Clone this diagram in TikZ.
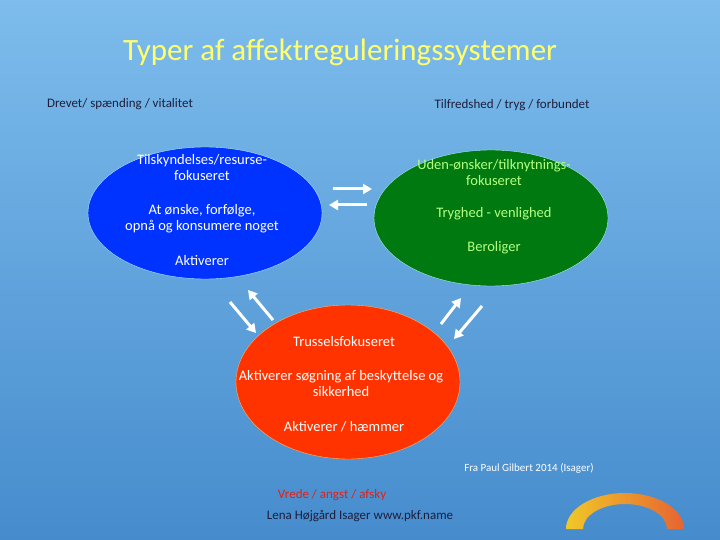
\documentclass[tikz,border=0pt]{standalone}
\usepackage{fontspec}
\setmainfont{Carlito}
\usetikzlibrary{shapes.geometric,arrows.meta}
\definecolor{bgtop}{RGB}{125,188,236}
\definecolor{bgbot}{RGB}{70,140,205}
\definecolor{ttl}{RGB}{255,255,110}
\definecolor{lbl}{RGB}{30,30,60}
\definecolor{cblue}{RGB}{0,51,255}
\definecolor{cgreen}{RGB}{0,122,16}
\definecolor{cred}{RGB}{255,51,0}
\definecolor{gtxt}{RGB}{180,255,130}
\definecolor{vred}{RGB}{230,30,20}
\definecolor{arcA}{RGB}{240,200,40}
\definecolor{arcB}{RGB}{230,100,50}
\begin{document}
\begin{tikzpicture}[x=1pt,y=-1pt,
  txt/.style={font=\fontsize{14.5}{16}\selectfont,align=center},
  small/.style={font=\fontsize{13}{15}\selectfont},
  arr/.style={draw=white,line width=3pt,-{Triangle[length=9pt,width=10pt]}}]
\shade[top color=bgtop,bottom color=bgbot] (0,0) rectangle (720,540);
\useasboundingbox (0,0) rectangle (720,540);
\node[text=ttl,font=\fontsize{31}{34}\selectfont] (title) at (340,52) {Typer af affektreguleringssystemer};
\node[small,text=lbl] (l1) at (120,104) {Drevet/ spænding / vitalitet};
\node[small,text=lbl] (l2) at (512,105) {Tilfredshed / tryg / forbundet};
\fill[cblue,draw=white!70!cyan] (205,213) ellipse [x radius=117,y radius=66];
\fill[cgreen,draw=white!70!cyan] (491,218) ellipse [x radius=117,y radius=68];
\fill[cred,draw=orange!60] (348,382) ellipse [x radius=112,y radius=77];
\node[txt,text=white] (b1) at (202,168) {Tilskyndelses/resurse-\\fokuseret};
\node[txt,text=white] (b2) at (202,219) {At ønske, forfølge,\\opnå og konsumere noget};
\node[txt,text=white] (b3) at (202,261) {Aktiverer};
\node[txt,text=gtxt] (g1) at (494,173) {Uden-ønsker/tilknytnings-\\fokuseret};
\node[txt,text=gtxt] (g2) at (494,214) {Tryghed - venlighed};
\node[txt,text=gtxt] (g3) at (494,248) {Beroliger};
\node[txt,text=white] (r1) at (344,342) {Trusselsfokuseret};
\node[txt,text=white] (r2) at (341,384) {Aktiverer søgning af beskyttelse og\\sikkerhed};
\node[txt,text=white] (r3) at (344,427) {Aktiverer / hæmmer};
\node[font=\fontsize{11}{13}\selectfont,text=white] (src) at (529,468) {Fra Paul Gilbert 2014 (Isager)};
\node[small,text=vred] (v) at (332,495) {Vrede / angst / afsky};
\node[small,text=lbl] (lena) at (360,516) {Lena Højgård Isager www.pkf.name};
\coordinate (h1a) at (333,189); \coordinate (h1b) at (372,189);
\coordinate (h2a) at (367,205); \coordinate (h2b) at (329,205);
\draw[arr] (h1a) -- (h1b);
\draw[arr] (h2a) -- (h2b);
\coordinate (d1a) at (230,302); \coordinate (d1b) at (256,333);
\coordinate (d2a) at (273,320); \coordinate (d2b) at (248,290);
\draw[arr] (d1a) -- (d1b);
\draw[arr] (d2a) -- (d2b);
\coordinate (e1a) at (441,324); \coordinate (e1b) at (461,298);
\coordinate (e2a) at (482,306); \coordinate (e2b) at (454,339);
\draw[arr] (e1a) -- (e1b);
\draw[arr] (e2a) -- (e2b);
\shade[left color=arcA,right color=arcB]
  (566,529) arc[start angle=180,end angle=360,x radius=59,y radius=36] -- (667,529) arc[start angle=360,end angle=180,x radius=42,y radius=25] -- cycle;
\end{tikzpicture}
\end{document}
